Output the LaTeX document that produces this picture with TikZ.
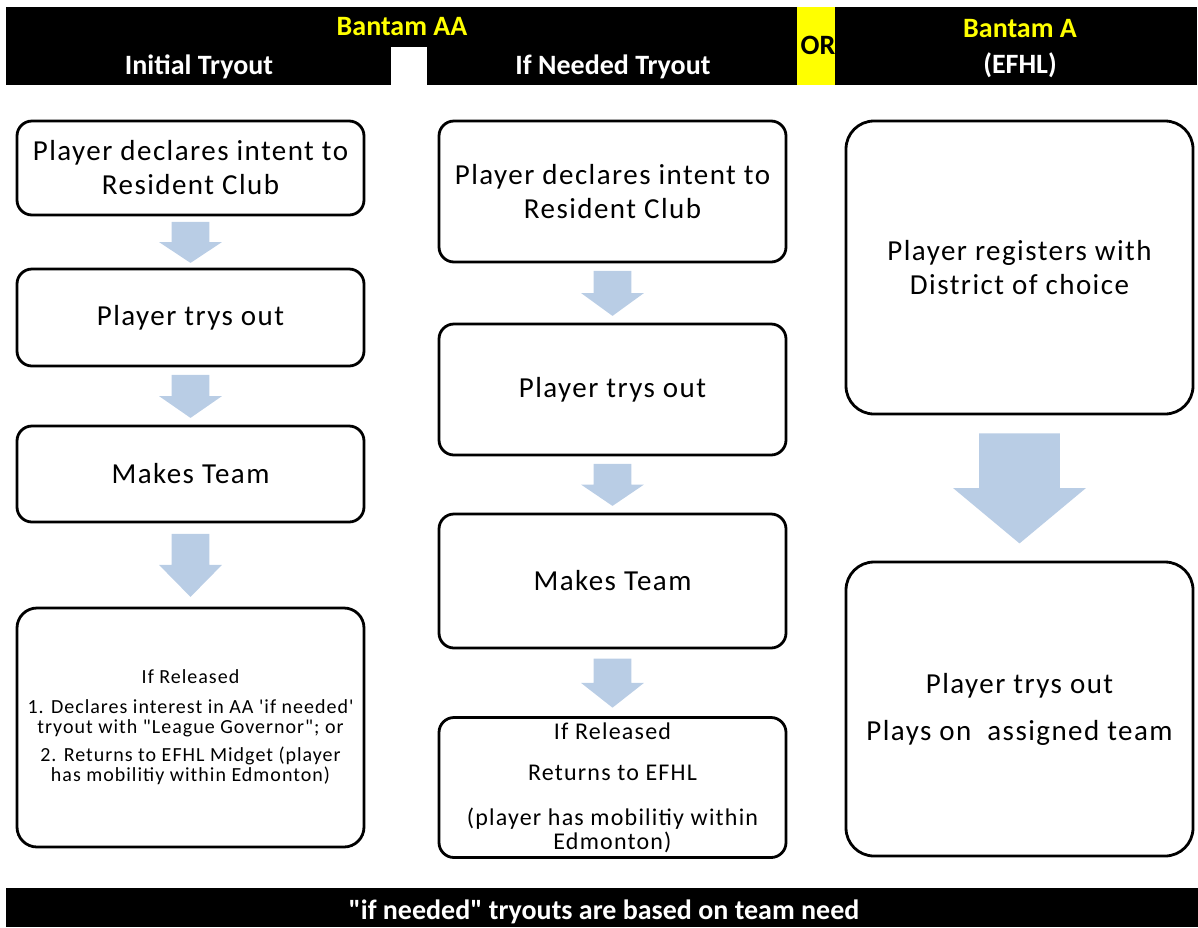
\documentclass[tikz,border=0pt]{standalone}
\usepackage{fontspec}
\setmainfont{Carlito}[Ligatures=TeXOff]
\newfontfamily\boxfont{Carlito}[LetterSpace=5,Ligatures=TeXOff]
\usetikzlibrary{shapes.arrows,calc}
\definecolor{arrowblue}{RGB}{185,205,229}
\definecolor{hdryellow}{RGB}{255,255,0}

\begin{document}
\begin{tikzpicture}
  [x=0.5pt,y=-0.5pt,
   stepbox/.style={draw,line width=1.4pt,rounded corners=7.5pt,minimum width=173.5pt,inner sep=2pt,align=center,font=\boxfont\fontsize{14.5}{17}\selectfont},
   bigbox/.style={stepbox,rounded corners=14pt},
   downarr/.style={single arrow,fill=arrowblue,rotate=-90,anchor=tail,inner xsep=0pt,inner ysep=9.25pt,single arrow head extend=6.25pt},
   bigarr/.style={downarr,inner ysep=20pt,single arrow head extend=13pt},
   hdr/.style={anchor=base,font=\bfseries\fontsize{14}{17}\selectfont,text=white}
  ]
  \useasboundingbox (0,0) rectangle (1198,927);

  % header bar
  \fill (6,7) rectangle (1197,85);
  \fill[white] (391,47) rectangle (427,85);
  \fill[hdryellow] (797,7) rectangle (835,85);
  \node[hdr,text=hdryellow] (aahead) at (402,35) {Bantam AA};
  \node[hdr] (inithead) at (199,74) {Initial Tryout};
  \node[hdr] (needhead) at (613,74) {If Needed Tryout};
  \node[hdr,text=black] (orhead) at (818,54) {OR};
  \node[hdr,text=hdryellow] (ahead) at (1020,37) {Bantam A};
  \node[hdr] (efhlhead) at (1020,73) {(EFHL)};

  % initial tryout
  \node[stepbox,minimum height=47pt] (a1) at (190.5,168) {Player declares intent to\\Resident Club};
  \node[stepbox,minimum height=48.5pt] (a2) at (190.5,317.5) {Player trys out};
  \node[stepbox,minimum height=48pt] (a3) at (190.5,474) {Makes Team};
  \node[stepbox,rounded corners=10pt,minimum height=119.5pt,font=\boxfont\fontsize{10}{10}\selectfont] (a4) at (190.5,727.5)
    {If Released\\[5pt]1. Declares interest in AA 'if needed'\\tryout with "League Governor"; or\\[4pt]2. Returns to EFHL Midget (player\\has mobilitiy within Edmonton)};

  % if needed tryout
  \node[stepbox,minimum height=70.5pt] (b1) at (612.5,191.5) {Player declares intent to\\Resident Club};
  \node[stepbox,minimum height=65.5pt] (b2) at (612.5,389.5) {Player trys out};
  \node[stepbox,minimum height=67pt] (b3) at (612.5,581) {Makes Team};
  \node[stepbox,minimum height=70pt,font=\boxfont\fontsize{12}{12}\selectfont] (b4) at (612.5,787.5)
    {If Released\\[8.5pt]Returns to EFHL\\[10.5pt](player has mobilitiy within\\Edmonton)};

  % bantam a
  \node[bigbox,minimum height=146.5pt] (c1) at (1019.5,267.5) {Player registers with\\District of choice};
  \node[bigbox,minimum height=147pt] (c2) at (1019.5,709) {Player trys out\\[6.5pt]Plays on\ \ assigned team};

  \foreach \a/\b/\len/\ang in {a1/a2/20.5pt/113,a2/a3/21.5pt/110.5,a3/a4/31.5pt/89,b1/b2/22.5pt/108,b2/b3/21pt/111.7,b3/b4/24.5pt/103.6} {
     \node[downarr,minimum height=\len,single arrow tip angle=\ang] (\a\b) at ($(\a.south)!.5!(\b.north)+(0pt,0.5*\len)$) {};
  }
  \node[bigarr,minimum height=55pt,single arrow tip angle=100.4] (c1c2) at ($(c1.south)!.5!(c2.north)+(0pt,27.5pt)$) {};

  % footer
  \fill (6,888) rectangle (1198,927);
  \node[hdr] (note) at (604,919) {"if needed" tryouts are based on team need};
\end{tikzpicture}
\end{document}
